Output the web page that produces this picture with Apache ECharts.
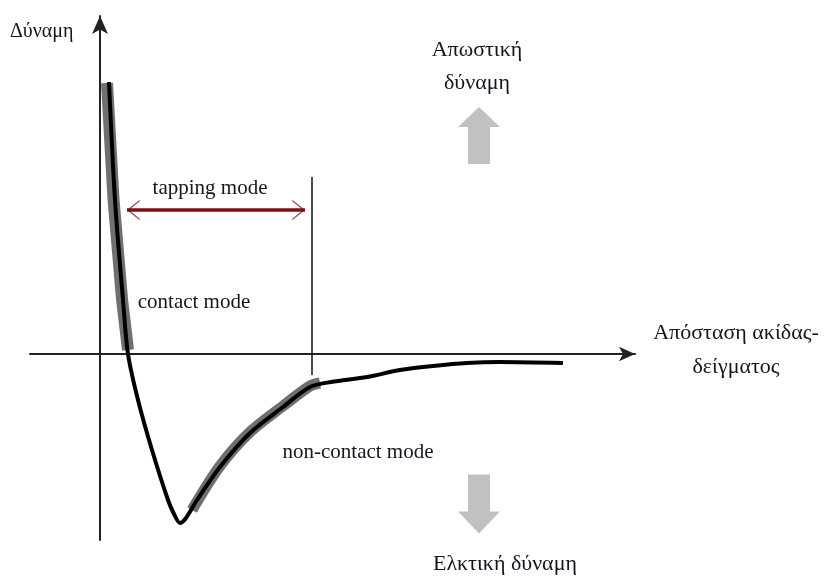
<!DOCTYPE html>
<html>
<head>
<meta charset="utf-8">
<script src="https://cdn.jsdelivr.net/npm/echarts@6/dist/echarts.min.js"></script>
<style>
  html, body { margin: 0; padding: 0; background: #fff; }
  #main { width: 827px; height: 576px; }
</style>
</head>
<body>
<div id="main"></div>
<script>
// force–distance curve (1 unit = 50px, y-axis at distance 0, x-axis at force 0)
var distance = [0.18, 0.3, 0.46, 0.56, 0.76, 1.04, 1.36, 1.48, 1.6, 1.72, 1.94, 2.4, 3.0, 3.66, 4.2, 4.62, 5.34, 6.0, 6.66, 7.34, 8.0, 9.26];
var force    = [5.44, 3.08, 1.08, 0, -0.92, -1.92, -2.92, -3.2, -3.38, -3.28, -2.92, -2.26, -1.58, -1.06, -0.66, -0.56, -0.46, -0.32, -0.24, -0.18, -0.16, -0.18];

// grey highlighted parts of the curve
var contactX = [0.14, 0.27, 0.44, 0.56];
var contactY = [5.42, 3.1, 1.1, 0.08];
var nonContactX = [1.84, 2.4, 3.0, 3.66, 4.2, 4.4];
var nonContactY = [-3.12, -2.24, -1.56, -1.04, -0.64, -0.58];

// tapping mode range and its limit marker
var tappingX = [0.54, 4.1];
var tappingY = 2.88;
var limitX = 4.24;
var limitY = [3.54, -0.42];

// big grey force direction arrows
var arrowX = 7.58;
var arrowY = [4.37, -3.0];

var serif = '"Liberation Serif", "DejaVu Serif", serif';
var ink = '#15151f';

function zip(xs, ys) {
  return xs.map(function (x, i) { return [x, ys[i]]; });
}

var myChart = echarts.init(document.getElementById('main'));

var option = {
  animation: false,
  backgroundColor: '#fff',
  grid: { left: 30, right: 192, top: 16, bottom: 36 },
  xAxis: {
    type: 'value', min: -1.4, max: 10.7,
    axisLine: { onZero: true, symbol: ['none', 'arrow'], symbolSize: [11, 16], lineStyle: { color: '#222', width: 2 } },
    axisTick: { show: false }, axisLabel: { show: false }, splitLine: { show: false }
  },
  yAxis: {
    type: 'value', min: -3.72, max: 6.76,
    axisLine: { onZero: true, symbol: ['none', 'arrow'], symbolSize: [12, 18], lineStyle: { color: '#222', width: 2 } },
    axisTick: { show: false }, axisLabel: { show: false }, splitLine: { show: false }
  },
  series: [
    {
      name: 'contact', type: 'line', data: zip(contactX, contactY), showSymbol: false, z: 3,
      lineStyle: { color: '#707070', width: 12 }
    },
    {
      name: 'non-contact', type: 'line', data: zip(nonContactX, nonContactY), showSymbol: false, smooth: 0.3, z: 3,
      lineStyle: { color: '#6f6f6f', width: 11 }
    },
    {
      name: 'force', type: 'line', data: zip(distance, force), showSymbol: false, smooth: 0.3, z: 4,
      lineStyle: { color: '#000', width: 4 }
    },
    {
      name: 'limit', type: 'line', data: [[limitX, limitY[0]], [limitX, limitY[1]]], showSymbol: false, z: 4,
      lineStyle: { color: '#111', width: 1.5 }
    },
    {
      name: 'tapping', type: 'line', data: [[tappingX[0], tappingY], [tappingX[1], tappingY]], showSymbol: false, z: 5,
      lineStyle: { color: '#7b1019', width: 3.5 }
    },
    {
      name: 'tapping heads', type: 'scatter', z: 5, itemStyle: { color: '#7b1019' },
      data: [
        { value: [tappingX[0], tappingY], symbol: 'path://M0,10 L13,0 L13.6,1.1 L2,10 L13.6,18.9 L13,20 Z', symbolSize: [13, 20], symbolOffset: [6.5, 0] },
        { value: [tappingX[1], tappingY], symbol: 'path://M13.6,10 L0.6,0 L0,1.1 L11.6,10 L0,18.9 L0.6,20 Z', symbolSize: [13, 20], symbolOffset: [-6.5, 0] }
      ]
    },
    {
      name: 'direction', type: 'scatter', z: 2, itemStyle: { color: '#b2b2b2' },
      data: [
        { value: [arrowX, arrowY[0]], symbol: 'path://M21,0 L42,20 L32,20 L32,57 L10,57 L10,20 L0,20 Z', symbolSize: [42, 57] },
        { value: [arrowX, arrowY[1]], symbol: 'path://M10,0 L32,0 L32,37 L42,37 L21,59 L0,37 L10,37 Z', symbolSize: [42, 59] }
      ]
    }
  ],
  graphic: [
    { type: 'text', left: 10, top: 22, style: { text: 'Δύναμη', font: '20px ' + serif, fill: ink } },
    { type: 'text', x: 477, y: 67, style: { text: 'Απωστική\nδύναμη', font: '22px ' + serif, fill: ink, align: 'center', verticalAlign: 'middle', lineHeight: 33 } },
    { type: 'text', x: 736, y: 350, style: { text: 'Απόσταση ακίδας-\nδείγματος', font: '22px ' + serif, fill: ink, align: 'center', verticalAlign: 'middle', lineHeight: 34 } },
    { type: 'text', x: 505, y: 564, style: { text: 'Ελκτική δύναμη', font: '22px ' + serif, fill: ink, align: 'center', verticalAlign: 'middle' } },
    { type: 'text', x: 210, y: 188, style: { text: 'tapping mode', font: '21px ' + serif, fill: ink, align: 'center', verticalAlign: 'middle' } },
    { type: 'text', x: 194, y: 302, style: { text: 'contact mode', font: '21px ' + serif, fill: ink, align: 'center', verticalAlign: 'middle' } },
    { type: 'text', x: 358, y: 452, style: { text: 'non-contact mode', font: '21px ' + serif, fill: ink, align: 'center', verticalAlign: 'middle' } }
  ]
};

myChart.setOption(option);
</script>
</body>
</html>
